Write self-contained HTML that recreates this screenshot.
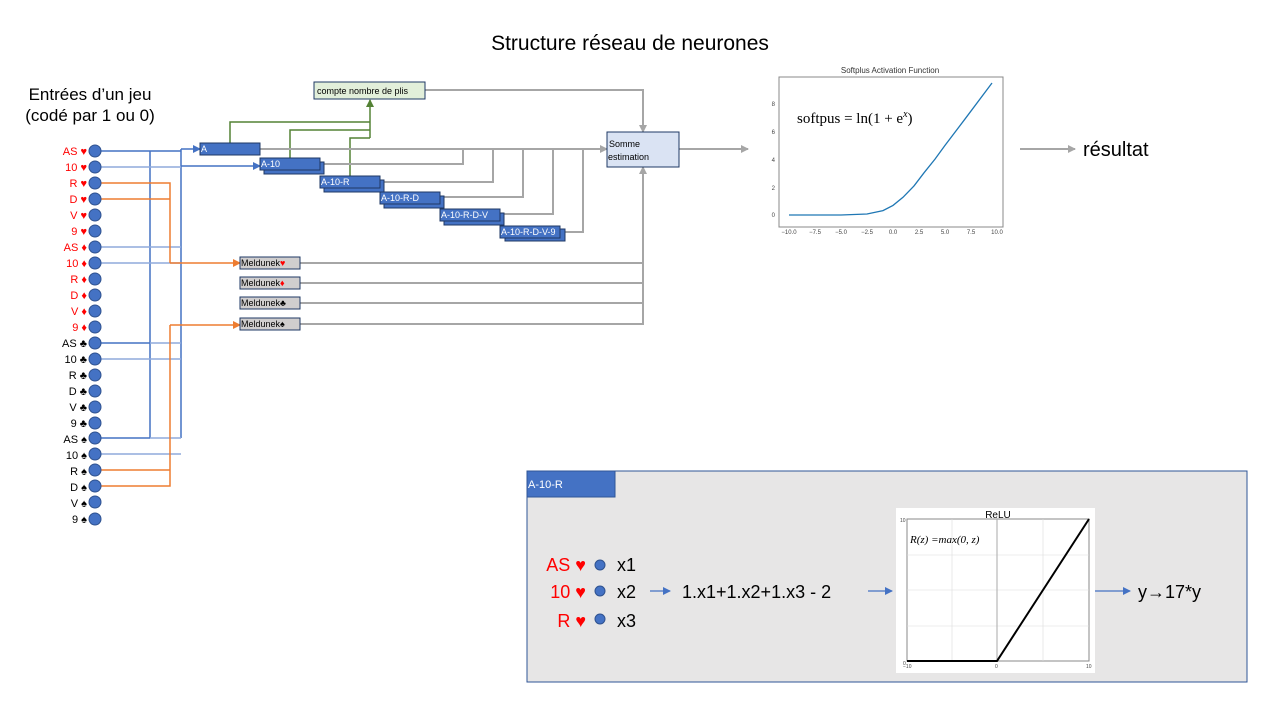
<!DOCTYPE html>
<html><head><meta charset="utf-8"><style>body{margin:0;background:#fff}svg{display:block;font-family:"Liberation Sans",sans-serif}</style></head><body>
<svg width="1280" height="720" viewBox="0 0 1280 720">
<defs>
<marker id="ab" markerWidth="8" markerHeight="8" refX="7" refY="4" orient="auto" markerUnits="userSpaceOnUse"><path d="M0,0 L8,4 L0,8z" fill="#4472c4"/></marker>
<marker id="ao" markerWidth="8" markerHeight="8" refX="7" refY="4" orient="auto" markerUnits="userSpaceOnUse"><path d="M0,0 L8,4 L0,8z" fill="#ed7d31"/></marker>
<marker id="ag" markerWidth="8" markerHeight="8" refX="7" refY="4" orient="auto" markerUnits="userSpaceOnUse"><path d="M0,0 L8,4 L0,8z" fill="#a6a6a6"/></marker>
<marker id="agr" markerWidth="8" markerHeight="8" refX="7" refY="4" orient="auto" markerUnits="userSpaceOnUse"><path d="M0,0 L8,4 L0,8z" fill="#548235"/></marker>
</defs>
<text x="630" y="50" font-size="21" text-anchor="middle" fill="#000">Structure réseau de neurones</text>
<text x="90" y="100" font-size="17" text-anchor="middle">Entrées d’un jeu</text>
<text x="90" y="121" font-size="17" text-anchor="middle">(codé par 1 ou 0)</text>
<g font-size="11" text-anchor="end">
<text x="87" y="155" fill="red">AS ♥</text><text x="87" y="171" fill="red">10 ♥</text><text x="87" y="187" fill="red">R ♥</text><text x="87" y="203" fill="red">D ♥</text><text x="87" y="219" fill="red">V ♥</text><text x="87" y="235" fill="red">9 ♥</text>
<text x="87" y="251" fill="red">AS ♦</text><text x="87" y="267" fill="red">10 ♦</text><text x="87" y="283" fill="red">R ♦</text><text x="87" y="299" fill="red">D ♦</text><text x="87" y="315" fill="red">V ♦</text><text x="87" y="331" fill="red">9 ♦</text>
<text x="87" y="347">AS ♣</text><text x="87" y="363">10 ♣</text><text x="87" y="379">R ♣</text><text x="87" y="395">D ♣</text><text x="87" y="411">V ♣</text><text x="87" y="427">9 ♣</text>
<text x="87" y="443">AS ♠</text><text x="87" y="459">10 ♠</text><text x="87" y="475">R ♠</text><text x="87" y="491">D ♠</text><text x="87" y="507">V ♠</text><text x="87" y="523">9 ♠</text>
</g>
<g fill="none" stroke-width="1.5">
<path d="M150,151V438M181,149V438" stroke="#4472c4"/>
<path d="M101,151H181M101,343H150M101,438H150" stroke="#4472c4"/>
<path d="M181,149H200" stroke="#4472c4" marker-end="url(#ab)"/>
<path d="M101,167H181M101,247H181M101,263H181M150,343H181M101,359H181M150,438H181M101,454H181" stroke="#8faadc"/>
<path d="M181,166H260" stroke="#4472c4" marker-end="url(#ab)"/>
<path d="M101,183H170V263M101,199H170" stroke="#ed7d31"/>
<path d="M170,263H240" stroke="#ed7d31" marker-end="url(#ao)"/>
<path d="M101,470H170M101,486H170V325" stroke="#ed7d31"/>
<path d="M170,325H240" stroke="#ed7d31" marker-end="url(#ao)"/>
<path d="M230,143V122H370M290,158V130H370M350,176V138H370" stroke="#548235"/>
<path d="M370,138V100" stroke="#548235" marker-end="url(#agr)"/>
<g stroke="#a6a6a6" stroke-width="2">
<path d="M260,149H607" marker-end="url(#ag)"/>
<path d="M320,164H463V149M380,182H493V149M440,197H523V149M500,214H553V149M560,232H583V149"/>
<path d="M425,90H643V132" marker-end="url(#ag)"/>
<path d="M300,263H643M300,283H643M300,303H643"/>
<path d="M300,324H643V167" marker-end="url(#ag)"/>
<path d="M679,149H748" marker-end="url(#ag)"/>
<path d="M1020,149H1075" marker-end="url(#ag)"/>
</g>
</g>
<g fill="#4472c4" stroke="#2f528f">
<circle cx="95" cy="151" r="6"/><circle cx="95" cy="167" r="6"/><circle cx="95" cy="183" r="6"/><circle cx="95" cy="199" r="6"/><circle cx="95" cy="215" r="6"/><circle cx="95" cy="231" r="6"/><circle cx="95" cy="247" r="6"/><circle cx="95" cy="263" r="6"/><circle cx="95" cy="279" r="6"/><circle cx="95" cy="295" r="6"/><circle cx="95" cy="311" r="6"/><circle cx="95" cy="327" r="6"/><circle cx="95" cy="343" r="6"/><circle cx="95" cy="359" r="6"/><circle cx="95" cy="375" r="6"/><circle cx="95" cy="391" r="6"/><circle cx="95" cy="407" r="6"/><circle cx="95" cy="423" r="6"/><circle cx="95" cy="438" r="6"/><circle cx="95" cy="454" r="6"/><circle cx="95" cy="470" r="6"/><circle cx="95" cy="486" r="6"/><circle cx="95" cy="502" r="6"/><circle cx="95" cy="519" r="6"/>
</g>
<g fill="#4472c4" stroke="#1f3864">
<rect x="200" y="143" width="60" height="12"/>
<rect x="264" y="162" width="60" height="12"/><rect x="260" y="158" width="60" height="12"/>
<rect x="324" y="180" width="60" height="12"/><rect x="320" y="176" width="60" height="12"/>
<rect x="384" y="196" width="60" height="12"/><rect x="380" y="192" width="60" height="12"/>
<rect x="444" y="213" width="60" height="12"/><rect x="440" y="209" width="60" height="12"/>
<rect x="505" y="229" width="60" height="12"/><rect x="500" y="226" width="60" height="12"/>
</g>
<g fill="#fff" font-size="9">
<text x="201" y="152">A</text><text x="261" y="167">A-10</text><text x="321" y="185">A-10-R</text><text x="381" y="201">A-10-R-D</text><text x="441" y="218">A-10-R-D-V</text><text x="501" y="235">A-10-R-D-V-9</text>
</g>
<g fill="#d0cece" stroke="#1f3864"><rect x="240" y="257" width="60" height="12"/><rect x="240" y="277" width="60" height="12"/><rect x="240" y="297" width="60" height="12"/><rect x="240" y="318" width="60" height="12"/></g>
<g font-size="9"><text x="241" y="266">Meldunek<tspan fill="red">♥</tspan></text><text x="241" y="286">Meldunek<tspan fill="red">♦</tspan></text><text x="241" y="306">Meldunek♣</text><text x="241" y="327">Meldunek♠</text></g>
<rect x="314" y="82" width="111" height="17" fill="#e2efda" stroke="#1f3864"/>
<text x="317" y="94" font-size="9">compte nombre de plis</text>
<rect x="607" y="132" width="72" height="35" fill="#dae3f3" stroke="#1f3864"/>
<text x="609" y="147" font-size="9">Somme</text><text x="608" y="160" font-size="9">estimation</text>
<text x="890" y="73" font-size="8" text-anchor="middle" fill="#333">Softplus Activation Function</text>
<rect x="779" y="77" width="224" height="150" fill="#fff" stroke="#888"/>
<g font-size="6" fill="#444" text-anchor="end"><text x="775" y="217">0</text><text x="775" y="190">2</text><text x="775" y="162">4</text><text x="775" y="134">6</text><text x="775" y="106">8</text></g>
<g font-size="6" fill="#444" text-anchor="middle"><text x="789" y="234">−10.0</text><text x="815" y="234">−7.5</text><text x="841" y="234">−5.0</text><text x="867" y="234">−2.5</text><text x="893" y="234">0.0</text><text x="919" y="234">2.5</text><text x="945" y="234">5.0</text><text x="971" y="234">7.5</text><text x="997" y="234">10.0</text></g>
<polyline fill="none" stroke="#1f77b4" stroke-width="1.3" points="789,215 841,215 867,214 883,210.6 893,205.4 903,197.3 914,185.9 924,172.8 935,159.1 945,145.4 966,117.7 992,83"/>
<text x="797" y="123" font-family="Liberation Serif,serif" font-size="15">softpus = ln(1 + e<tspan font-style="italic" font-size="10" dy="-6">x</tspan><tspan dy="6">)</tspan></text>
<text x="1083" y="156" font-size="20">résultat</text>
<rect x="527" y="471" width="720" height="211" fill="#e7e6e6" stroke="#2f5597"/>
<rect x="527" y="471" width="88" height="26" fill="#4472c4" stroke="#2f5597"/>
<text x="528" y="488" font-size="11" fill="#fff">A-10-R</text>
<g font-size="18" text-anchor="end" fill="red"><text x="586" y="571">AS ♥</text><text x="586" y="598">10 ♥</text><text x="586" y="627">R ♥</text></g>
<g fill="#4472c4" stroke="#2f528f"><circle cx="600" cy="565" r="5"/><circle cx="600" cy="591" r="5"/><circle cx="600" cy="619" r="5"/></g>
<g font-size="18"><text x="617" y="571">x1</text><text x="617" y="598">x2</text><text x="617" y="627">x3</text><text x="682" y="598">1.x1+1.x2+1.x3 - 2</text><text x="1138" y="598">y→17*y</text></g>
<g stroke="#4472c4" stroke-width="1.2"><path d="M650,591H670" marker-end="url(#ab)"/><path d="M868,591H892" marker-end="url(#ab)"/><path d="M1095,591H1130" marker-end="url(#ab)"/></g>
<rect x="896" y="508" width="199" height="165" fill="#fff"/>
<text x="998" y="518" font-size="10" text-anchor="middle">ReLU</text>
<rect x="907" y="519" width="182" height="142" fill="none" stroke="#888"/>
<path d="M952,519V661M1043,519V661M907,555H1089M907,590H1089M907,626H1089" stroke="#ddd" stroke-width="0.6"/>
<path d="M997,519V661" stroke="#aaa"/>
<path d="M907,661H997L1089,519" fill="none" stroke="#000" stroke-width="2"/>
<text x="910" y="543" font-family="Liberation Serif,serif" font-style="italic" font-size="11">R(z) =max(0,  z)</text>
<g font-size="5" fill="#444"><text x="903" y="665">0</text><text x="900" y="522">10</text><text x="903" y="668">−10</text><text x="1086" y="668">10</text><text x="995" y="668">0</text></g>
</svg>
</body></html>
